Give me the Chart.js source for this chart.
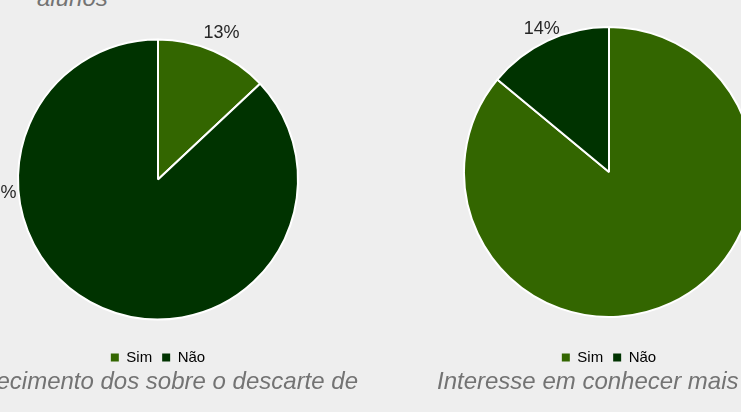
<!DOCTYPE html>
<html>
<head>
<meta charset="utf-8">
<script src="https://cdn.jsdelivr.net/npm/chart.js@4.4.1/dist/chart.umd.min.js"></script>
<style>
    html, body {
        margin: 0;
        padding: 0;
        width: 741px;
        height: 412px;
        overflow: hidden;
        position: relative;
        background: #eeeeee;
        font-family: "Liberation Sans", Arial, sans-serif;
    }
    canvas { position: absolute; }
    .title {
        position: absolute;
        font-style: italic;
        font-size: 24px;
        line-height: 24px;
        color: #737373;
        white-space: nowrap;
    }
</style>
</head>
<body>
<div class="title" style="left:37px; top:-14px;">alunos</div>
<canvas id="chartLeft" width="320" height="375" style="left:-2px; top:0px;"></canvas>
<canvas id="chartRight" width="300" height="375" style="left:459px; top:0px;"></canvas>
<div class="title" style="right:383px; top:369px;">ecimento dos sobre o descarte de</div>
<div class="title" style="left:437px; top:369px;">Interesse em conhecer mais</div>

<script>
const labels = ["Sim", "Não"];
const conhecimentoValues = [13, 87];
const interesseValues = [86, 14];
const colors = ["#336600", "#003300"];

// percentage labels just outside the pie
const outsideLabels = {
    id: "outsideLabels",
    afterDatasetsDraw(chart, args, opts) {
        const ctx = chart.ctx;
        const meta = chart.getDatasetMeta(0);
        const data = chart.data.datasets[0].data;
        ctx.save();
        ctx.font = "18px 'Liberation Sans', Arial, sans-serif";
        ctx.fillStyle = "#262626";
        ctx.textAlign = "center";
        ctx.textBaseline = "middle";
        meta.data.forEach((arc, i) => {
            const p = arc.getProps(["x", "y", "startAngle", "endAngle", "outerRadius"], true);
            let angle = (p.startAngle + p.endAngle) / 2;
            if (opts.angles && opts.angles[i] != null) {
                angle = (opts.angles[i] - 90) * Math.PI / 180;
            }
            const r = p.outerRadius + opts.offset;
            ctx.fillText(data[i] + "%", p.x + Math.cos(angle) * r, p.y + Math.sin(angle) * r);
        });
        ctx.restore();
    }
};

function makePie(id, values, radius, padTop, labelOpts) {
    const ctx = document.getElementById(id).getContext("2d");
    return new Chart(ctx, {
        type: "pie",
        data: {
            labels: labels,
            datasets: [{
                data: values,
                backgroundColor: colors,
                borderColor: "#ffffff",
                borderWidth: 2,
                radius: radius
            }]
        },
        options: {
            responsive: false,
            animation: false,
            layout: { padding: { top: padTop } },
            plugins: {
                legend: {
                    position: "bottom",
                    labels: {
                        boxWidth: 8,
                        boxHeight: 8,
                        padding: 10,
                        color: "#000000",
                        font: { family: "'Liberation Sans', Arial, sans-serif", size: 15 },
                        // no white outline on the legend squares
                        generateLabels(chart) {
                            const items = Chart.overrides.pie.plugins.legend.labels.generateLabels(chart);
                            items.forEach((item) => {
                                item.lineWidth = 0;
                                item.strokeStyle = "rgba(0,0,0,0)";
                            });
                            return items;
                        }
                    }
                },
                tooltip: { enabled: false },
                outsideLabels: labelOpts
            }
        },
        plugins: [outsideLabels]
    });
}

makePie("chartLeft", conhecimentoValues, 140, 19, { offset: 20, angles: [null, 265] });
makePie("chartRight", interesseValues, 145, 4, { offset: 13, angles: [95, null] });
</script>
</body>
</html>
